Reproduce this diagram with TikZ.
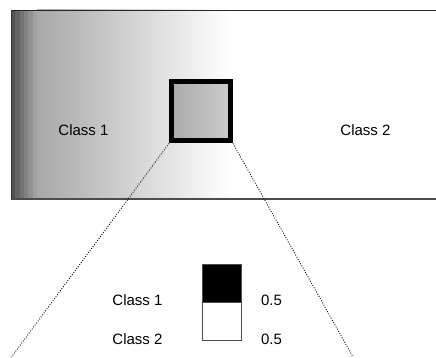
\documentclass[tikz,border=0pt]{standalone}
\usepackage{fontspec}
\setmainfont{Liberation Sans}
\begin{document}
\begin{tikzpicture}[x=1pt,y=1pt,
  lbl/.style={inner sep=0pt,font=\fontsize{15}{18}\selectfont},
  guide/.style={dash pattern=on 0.9pt off 1.6pt,line width=0.9pt},
  barcell/.style={draw=black!70,line width=0.8pt,minimum width=39pt,minimum height=38pt,inner sep=0pt,outer sep=0pt}]
\useasboundingbox (0,0) rectangle (436,358);
% feature space with a fading class-1 region
\fill[left color=black!34,right color=white] (37,159) rectangle (230,348);
\foreach \i/\g in {0/68,1/61,2/55,3/49,4/43,5/37}
  \fill[black!\g] ({11+\i*4.35},159) rectangle ({11+(\i+1)*4.35+0.2},348);
\draw[black!85,line width=0.9pt] (11,348) -- (436,348);
\draw[black!70,line width=2pt] (11,159) -- (436,159);
\draw[black!80,line width=0.8pt] (11,159) -- (11,348);
\node[lbl] (c1) at (83.5,228) {Class 1};
\node[lbl] (c2) at (365.5,228) {Class 2};
% zoomed window
\node[draw=black,line width=5pt,minimum size=59pt,inner sep=0pt,
      left color=black!33,right color=black!20] (win) at (201,246.5) {};
\coordinate (lend) at (11.5,1);
\coordinate (rend) at (353,1);
\draw[guide] (win.south west) -- (lend);
\draw[guide] (win.south east) -- (rend);
% class proportions inside the window
\node[barcell,fill=black,anchor=south west] (p1) at (202,56) {};
\node[barcell,fill=white,anchor=north west] (p2) at (p1.south west) {};
\node[lbl] (l1) at (137.5,58) {Class 1};
\node[lbl] (l2) at (137.5,19) {Class 2};
\node[lbl] (v1) at (271.5,58) {0.5};
\node[lbl] (v2) at (271.5,19) {0.5};
\end{tikzpicture}
\end{document}
